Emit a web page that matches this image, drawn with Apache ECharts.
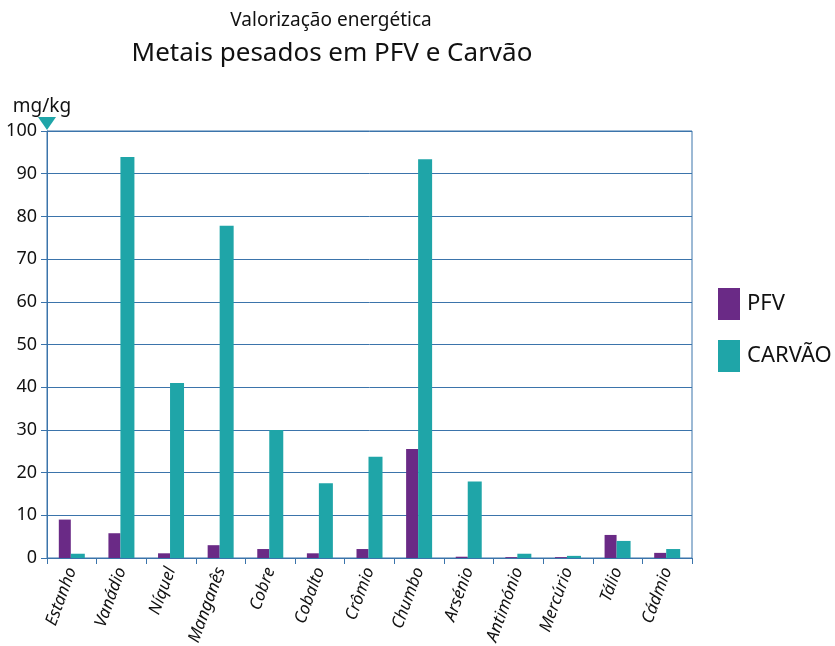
<!DOCTYPE html>
<html>
<head>
<meta charset="utf-8">
<script src="https://cdn.jsdelivr.net/npm/echarts@6/dist/echarts.min.js"></script>
<style>
  html, body { margin: 0; padding: 0; background: #fff; }
  #chart { width: 835px; height: 646px; }
</style>
</head>
<body>
<div id="chart"></div>
<script>
// Heavy metal content (mg/kg) in PFV and coal
const metals = ['Estanho', 'Vanádio', 'Níquel', 'Manganês', 'Cobre', 'Cobalto', 'Crômio',
                'Chumbo', 'Arsénio', 'Antimónio', 'Mercúrio', 'Tálio', 'Cádmio'];
const pfv    = [9.0, 5.8, 1.1, 3.0, 2.1, 1.1, 2.1, 25.5, 0.3, 0.2, 0.2, 5.4, 1.2];
const carvao = [1.0, 93.9, 41.0, 77.8, 30.0, 17.5, 23.7, 93.4, 17.9, 1.0, 0.5, 4.0, 2.1];
const yTicks = [0, 10, 20, 30, 40, 50, 60, 70, 80, 90, 100];

const FONT = 'Noto Sans';
const LINE = '#3b74ab';
const PURPLE = '#6a2a86';
const TEAL = '#1fa5a8';

const chart = echarts.init(document.getElementById('chart'), null, { renderer: 'canvas' });

const option = {
  backgroundColor: '#ffffff',
  animation: false,
  textStyle: { fontFamily: FONT, color: '#111' },
  title: [
    { text: 'Valorização energética', left: 326, top: 6, textAlign: 'center',
      textStyle: { fontFamily: FONT, fontSize: 19, fontWeight: 'normal', color: '#111' } },
    { text: 'Metais pesados em PFV e Carvão', left: 327, top: 36, textAlign: 'center',
      textStyle: { fontFamily: FONT, fontSize: 26, fontWeight: 'normal', color: '#111' } }
  ],
  legend: {
    orient: 'vertical',
    left: 718, top: 288, padding: 0,
    itemWidth: 22, itemHeight: 32, itemGap: 20,
    icon: 'rect',
    textStyle: { fontFamily: FONT, fontSize: 22, color: '#111', padding: [0, 0, 0, 2] },
    data: ['PFV', 'CARVÃO']
  },
  grid: {
    left: 47, right: 143, top: 131, bottom: 88,
    outerBoundsMode: 'none',
    containLabel: false,
    show: true, borderColor: LINE, borderWidth: 1
  },
  xAxis: {
    type: 'category',
    data: metals,
    axisLine: { lineStyle: { color: LINE, width: 1 } },
    axisTick: { show: true, length: 6, lineStyle: { color: LINE } },
    axisLabel: {
      rotate: 70, fontStyle: 'italic', fontSize: 17, color: '#111',
      fontFamily: FONT, margin: 10, interval: 0
    }
  },
  yAxis: {
    type: 'value',
    min: 0, max: 100, interval: 10,
    name: 'mg/kg',
    nameLocation: 'end',
    nameGap: 15,
    nameTextStyle: { fontFamily: FONT, fontSize: 19, color: '#111', align: 'center', padding: [0, 10, 0, 0] },
    axisLine: { show: true, lineStyle: { color: LINE, width: 1 } },
    axisTick: { show: true, length: 6, lineStyle: { color: LINE } },
    axisLabel: {
      fontSize: 18, color: '#111', fontFamily: FONT, margin: 10,
      formatter: v => (yTicks.includes(v) ? String(v) : '')
    },
    splitLine: { show: true, lineStyle: { color: LINE, width: 1 } }
  },
  series: [
    { name: 'PFV', type: 'bar', data: pfv, barWidth: 12, barGap: '0%',
      itemStyle: { color: PURPLE } },
    { name: 'CARVÃO', type: 'bar', data: carvao, barWidth: 14,
      itemStyle: { color: TEAL } }
  ]
};

chart.setOption(option);

// Downward marker at the top of the value axis
const axisTopY = chart.convertToPixel({ yAxisIndex: 0 }, 100);
const cat0 = chart.convertToPixel({ xAxisIndex: 0 }, 0);
const cat1 = chart.convertToPixel({ xAxisIndex: 0 }, 1);
const axisX = cat0 - (cat1 - cat0) / 2;
chart.setOption({
  graphic: [{
    type: 'polygon',
    shape: { points: [[axisX - 9, axisTopY - 14], [axisX + 9, axisTopY - 14], [axisX, axisTopY - 1]] },
    style: { fill: TEAL },
    z: 100
  }]
});
</script>
</body>
</html>
